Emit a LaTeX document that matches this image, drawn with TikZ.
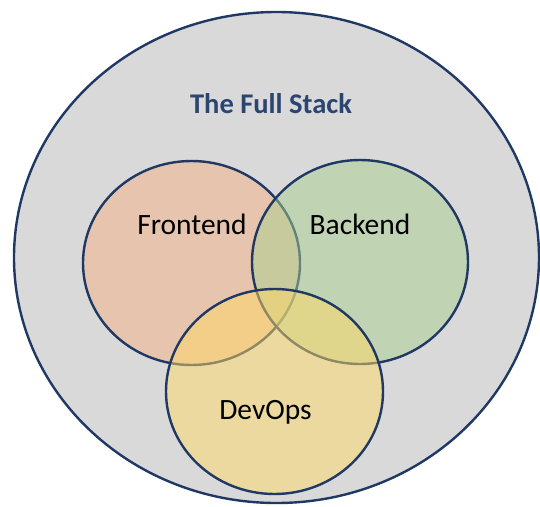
\documentclass[tikz,border=0pt]{standalone}
\usepackage{fontspec}
\setmainfont{Carlito}
\usetikzlibrary{shapes.geometric}
\definecolor{navy}{HTML}{1F3864}
\definecolor{titleblue}{HTML}{2B4470}
\definecolor{bggray}{HTML}{D9D9D9}
\definecolor{feorange}{HTML}{F4B183}
\definecolor{begreen}{HTML}{A9D18E}
\definecolor{dogold}{HTML}{FFD966}
\tikzset{
  setellipse/.style={ellipse, draw=navy, line width=2.4pt, inner sep=0pt, outer sep=0pt},
  partset/.style={setellipse, fill opacity=0.5, draw opacity=1},
  setlabel/.style={font=\fontsize{29.5}{32}\selectfont, text=black, inner sep=0pt},
}
\begin{document}
\begin{tikzpicture}[x=1pt,y=-1pt]
\useasboundingbox (0,0) rectangle (540,506);
\node[setellipse, fill=bggray, minimum width=525pt, minimum height=491pt] (full) at (276.5,257.5) {};
\node[font=\bfseries\fontsize{28.5}{31}\selectfont, text=titleblue, inner sep=0pt] (title) at (271,104) {The Full Stack};
\node[partset, fill=feorange, minimum width=217pt, minimum height=204pt] (fe) at (191.5,263) {};
\node[partset, fill=begreen, minimum width=216pt, minimum height=204pt] (be) at (360,262) {};
\node[partset, fill=dogold, minimum width=217pt, minimum height=205pt] (do) at (274.5,391.5) {};
\node[setlabel] (felabel) at (192,224) {Frontend};
\node[setlabel] (belabel) at (360,224) {Backend};
\node[setlabel] (dolabel) at (265.5,412) {DevOps};
\end{tikzpicture}
\end{document}
